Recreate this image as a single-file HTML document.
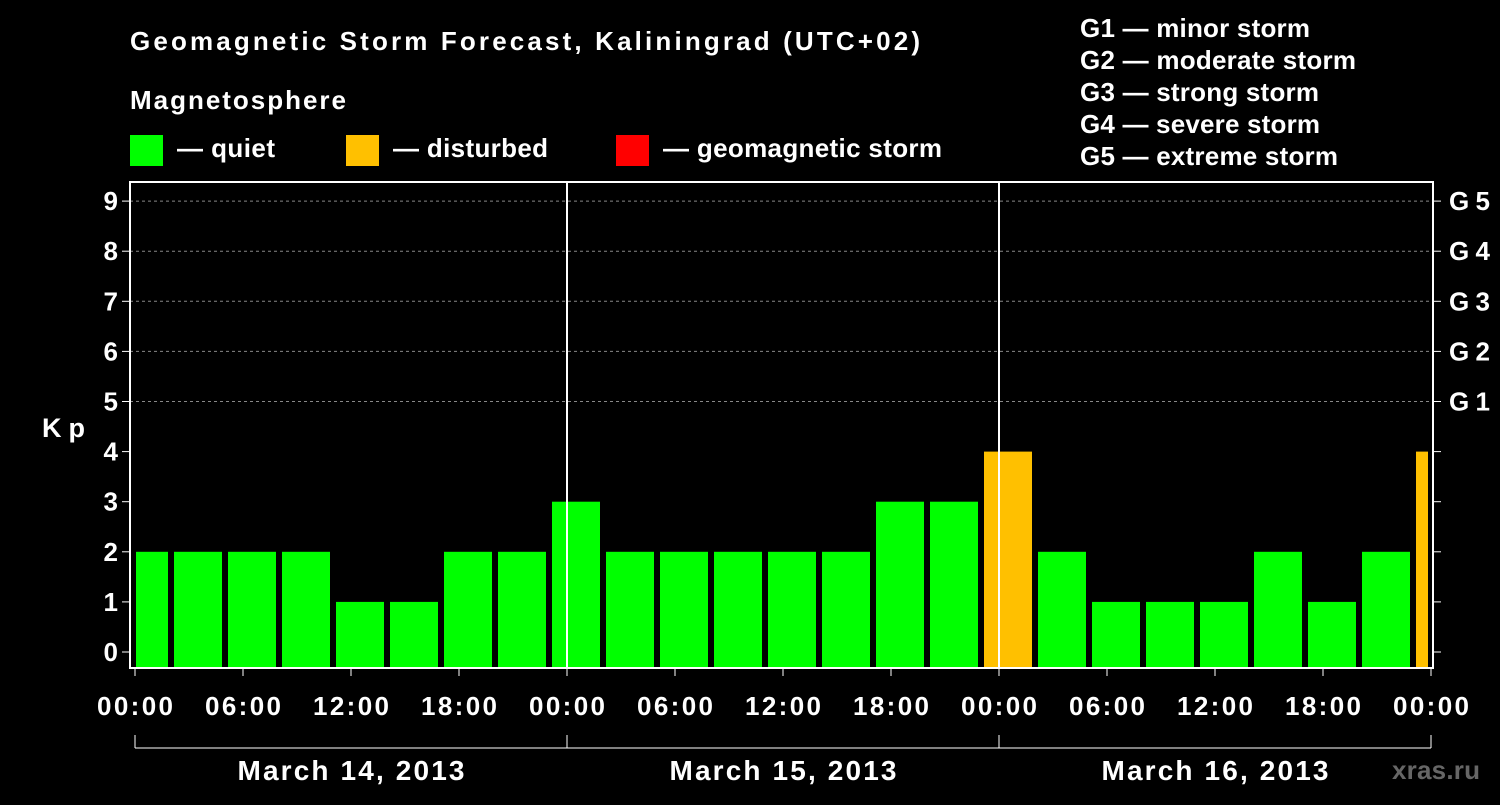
<!DOCTYPE html>
<html><head><meta charset="utf-8"><style>
body{margin:0;background:#000;width:1500px;height:800px;overflow:hidden;font-family:"Liberation Sans",sans-serif}
svg text{font-family:"Liberation Sans",sans-serif;font-weight:bold;fill:#fff}
</style></head><body>
<svg id="c" width="1500" height="800">
<text x="130" y="50" font-size="26" textLength="790" lengthAdjust="spacing">Geomagnetic Storm Forecast, Kaliningrad (UTC+02)</text>
<text x="130" y="109" font-size="26" textLength="216" lengthAdjust="spacing">Magnetosphere</text>
<g><rect x="130" y="135" width="33" height="31" fill="#00ff00"/><text x="177" y="157" font-size="26" textLength="98" lengthAdjust="spacing">— quiet</text></g>
<g><rect x="346" y="135" width="33" height="31" fill="#ffc000"/><text x="393" y="157" font-size="26" textLength="155" lengthAdjust="spacing">— disturbed</text></g>
<g><rect x="616" y="135" width="33" height="31" fill="#ff0000"/><text x="663" y="157" font-size="26" textLength="279" lengthAdjust="spacing">— geomagnetic storm</text></g>
<g font-size="26">
<text x="1080" y="37" textLength="230" lengthAdjust="spacing">G1 — minor storm</text><text x="1080" y="69" textLength="276" lengthAdjust="spacing">G2 — moderate storm</text><text x="1080" y="101" textLength="239" lengthAdjust="spacing">G3 — strong storm</text><text x="1080" y="133" textLength="240" lengthAdjust="spacing">G4 — severe storm</text><text x="1080" y="165" textLength="258" lengthAdjust="spacing">G5 — extreme storm</text></g>
<text x="42" y="437" font-size="27" textLength="43" lengthAdjust="spacing">Kp</text>
<text x="1392" y="779" font-size="26" textLength="88" lengthAdjust="spacing" style="fill:#666">xras.ru</text>
<g id="plot"></g>
</svg>
<script>
const values=[2,2,2,2,1,1,2,2,3,2,2,2,2,2,3,3,4,2,1,1,1,2,1,2,4];
const yTicks=[0,1,2,3,4,5,6,7,8,9];
const gLabels=["G1","G2","G3","G4","G5"];
const xLabels=["00:00","06:00","12:00","18:00","00:00","06:00","12:00","18:00","00:00","06:00","12:00","18:00","00:00"];
const days=["March 14, 2013","March 15, 2013","March 16, 2013"];
const NS="http://www.w3.org/2000/svg",g=document.getElementById('plot');
const L=130,R=1433,T=182,B=668,X0=135,HR=18;
const y=v=>652-v*50.1, x=h=>X0+h*HR;
function el(t,a,txt){const e=document.createElementNS(NS,t);for(const k in a)e.setAttribute(k,a[k]);if(txt!=null)e.textContent=txt;g.appendChild(e);return e;}
yTicks.forEach(v=>{
 if(v>=5){const gl=el('line',{x1:L,x2:R,y1:y(v),y2:y(v),stroke:'#888','stroke-dasharray':'3,3'});
 
 }
 el('line',{x1:L-8,x2:L,y1:y(v),y2:y(v),stroke:'#fff'});
 el('line',{x1:R,x2:R+8,y1:y(v),y2:y(v),stroke:'#fff'});
 const t=el('text',{x:L-12,y:y(v)+9,'font-size':26,'text-anchor':'end'},v);
 
 
});
gLabels.forEach((s,i)=>{const t=el('text',{x:1449,y:y(5+i)+9,'font-size':26,textLength:41,lengthAdjust:'spacing'},s);
 
 });
values.forEach((v,i)=>{
 let a=x(-1+3*i)+3,b=x(2+3*i)-3;a=Math.max(a,L+6);b=Math.min(b,R-5);
 const r=el('rect',{x:a,y:y(v),width:b-a,height:B-y(v),fill:v>=4?'#ffc000':'#00ff00'});
 
 
});
[1,2].forEach(d=>el('line',{x1:x(24*d),x2:x(24*d),y1:T,y2:B,stroke:'#fff','stroke-width':2}));
const fr=el('rect',{x:L,y:T,width:R-L,height:B-T,fill:'none',stroke:'#fff','stroke-width':2});


xLabels.forEach((s,i)=>{const xx=x(6*i);
 el('line',{x1:xx,x2:xx,y1:B,y2:B+8,stroke:'#fff'});
 const t=el('text',{x:xx,y:715,'font-size':26,'text-anchor':'middle',textLength:76,lengthAdjust:'spacing'},s);
 
 });
el('line',{x1:x(0),x2:x(72),y1:748,y2:748,stroke:'#fff'});
[0,1,2,3].forEach(d=>el('line',{x1:x(24*d),x2:x(24*d),y1:735,y2:748,stroke:'#fff'}));
days.forEach((s,i)=>{const t=el('text',{x:x(24*i+12),y:780,'font-size':28,'text-anchor':'middle',textLength:227,lengthAdjust:'spacing'},s);
 
 });
</script>
</body></html>
